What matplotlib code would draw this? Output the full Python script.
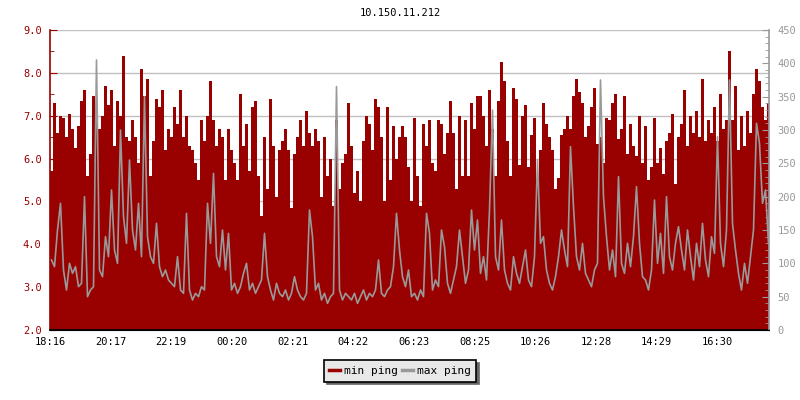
import matplotlib
matplotlib.use("Agg")
import matplotlib.pyplot as plt
import numpy as np
from matplotlib.lines import Line2D
from matplotlib.ticker import MultipleLocator, FormatStrFormatter

title = "10.150.11.212"
step_minutes = 6  # one sample every 6 minutes, 24 h window starting 18:16

# min ping (left axis), one value per sample
min_ping = [
    5.7, 7.3, 6.6, 7.0, 6.95, 6.5, 7.05, 6.7, 6.25, 6.75, 7.35, 7.6, 5.6, 6.1, 7.45, 6.9, 6.7, 7.0, 7.7, 7.25,
    7.6, 6.3, 7.35, 7.0, 8.4, 6.5, 6.4, 6.9, 6.5, 5.9, 8.1, 7.45, 7.85, 5.6, 6.4, 7.4, 7.2, 7.6, 6.2, 6.7,
    6.5, 7.2, 6.8, 7.6, 6.5, 7.0, 6.3, 6.2, 5.9, 5.5, 6.9, 6.4, 7.0, 7.8, 6.9, 6.3, 6.7, 6.5, 5.5, 6.7,
    6.2, 5.9, 5.5, 7.5, 6.3, 6.8, 5.7, 7.2, 7.35, 5.6, 4.65, 6.5, 5.3, 7.4, 6.3, 5.1, 6.2, 6.4, 6.7, 6.2,
    4.85, 6.1, 6.5, 6.9, 6.3, 7.1, 6.6, 6.3, 6.7, 6.4, 5.1, 6.5, 5.6, 6.0, 4.9, 6.9, 5.3, 5.9, 6.1, 7.3,
    6.3, 5.2, 5.7, 5.0, 6.4, 7.0, 6.8, 6.2, 7.4, 7.2, 6.5, 5.0, 7.2, 5.5, 6.75, 6.0, 6.5, 6.75, 6.5, 5.8,
    5.0, 6.95, 5.6, 4.9, 6.8, 6.3, 6.9, 5.9, 5.7, 6.9, 6.8, 6.1, 6.6, 7.35, 6.6, 5.3, 7.0, 5.6, 6.9, 5.6,
    7.3, 6.7, 7.45, 7.45, 7.0, 6.3, 7.6, 6.7, 5.6, 7.35, 8.25, 7.8, 6.4, 5.6, 7.65, 7.4, 5.85, 7.0, 7.25, 5.8,
    6.55, 6.95, 5.35, 6.2, 7.3, 6.8, 6.5, 6.2, 5.3, 5.55, 6.55, 6.7, 7.0, 6.7, 7.45, 7.85, 7.55, 7.3, 6.5, 6.75,
    7.2, 7.65, 6.35, 6.5, 5.9, 6.95, 6.9, 7.3, 7.5, 6.45, 6.7, 7.45, 6.1, 6.8, 6.3, 6.05, 7.0, 5.9, 6.75, 5.5,
    5.8, 6.95, 5.9, 6.25, 5.65, 6.4, 6.6, 7.05, 5.4, 6.5, 6.8, 7.6, 6.3, 7.0, 6.6, 7.1, 6.5, 7.85, 6.4, 6.9,
    6.6, 7.2, 6.4, 7.5, 6.7, 6.9, 8.5, 6.9, 7.7, 6.2, 7.0, 6.3, 7.1, 6.6, 7.5, 8.1, 7.8, 7.2, 6.9, 7.3,
]

# max ping (right axis, ms)
max_ping = [
    105, 95, 150, 190, 90, 60, 100, 85, 95, 65, 70, 200, 50, 60, 65, 405, 90, 80, 140, 110,
    210, 120, 100, 300, 170, 130, 255, 150, 120, 190, 110, 350, 140, 110, 100, 160, 95, 80, 90, 75,
    70, 65, 110, 60, 55, 175, 60, 45, 55, 50, 65, 60, 190, 130, 235, 110, 95, 150, 90, 145,
    60, 70, 55, 65, 85, 100, 60, 70, 55, 65, 75, 145, 80, 60, 45, 70, 55, 50, 60, 45,
    55, 80, 60, 50, 45, 55, 180, 140, 60, 70, 45, 55, 40, 50, 55, 365, 60, 45, 55, 50,
    45, 55, 40, 50, 60, 45, 55, 50, 60, 105, 55, 50, 60, 65, 95, 175, 120, 80, 65, 90,
    50, 55, 45, 60, 50, 175, 145, 60, 75, 65, 150, 125, 70, 55, 75, 95, 150, 110, 70, 90,
    180, 120, 165, 85, 110, 75, 180, 330, 110, 90, 165, 90, 70, 60, 110, 85, 70, 95, 120, 75,
    65, 110, 255, 130, 140, 90, 70, 60, 80, 110, 150, 120, 95, 275, 185, 110, 90, 130, 85, 75,
    65, 90, 100, 375, 200, 140, 90, 120, 80, 230, 100, 85, 130, 95, 140, 215, 130, 80, 75, 60,
    90, 195, 100, 145, 85, 200, 110, 90, 130, 155, 120, 90, 150, 110, 75, 130, 95, 160, 105, 80,
    140, 115, 290, 130, 95, 150, 375, 160, 120, 85, 60, 100, 70, 110, 150, 310, 280, 190, 210, 130,
]

tick_labels = ["18:16", "20:17", "22:19", "00:20", "02:21", "04:22",
               "06:23", "08:25", "10:26", "12:28", "14:29", "16:30"]

RED = "#990000"
GREY = "#999999"
plt.rcParams["font.family"] = ["DejaVu Sans Mono"]
plt.rcParams["font.size"] = 7.5

t = np.arange(len(min_ping)) * step_minutes
t_end = 1438

fig = plt.figure(figsize=(8, 4), dpi=100)
ax = fig.add_axes([50 / 800, 70 / 400, 719 / 800, 300 / 400])
ax2 = ax.twinx()

ax.fill_between(np.append(t, t_end), 2, np.append(min_ping, min_ping[-1]),
                step="post", color=RED, lw=0, label="min ping")
ax2.plot(t + step_minutes / 2, max_ping, color=GREY, lw=1.2, label="max ping")

ax.set_xlim(0, t_end)
ax.set_ylim(2, 9)
ax2.set_ylim(0, 450)

ax.set_axisbelow(True)
ax.yaxis.set_major_locator(MultipleLocator(1))
ax.yaxis.set_minor_locator(MultipleLocator(0.5))
ax.yaxis.set_major_formatter(FormatStrFormatter("%.1f"))
ax.grid(axis="y", color="#c0c0c0", lw=1)

ax.set_xticks(np.arange(len(tick_labels)) * 1456 / 12)
ax.set_xticklabels(tick_labels)

ax.tick_params(axis="x", direction="in", length=5, color="black", pad=5)
ax.tick_params(axis="y", which="major", direction="in", length=5, colors=RED, pad=6)
ax.tick_params(axis="y", which="minor", direction="in", length=3, colors=RED)

ax2.yaxis.set_major_locator(MultipleLocator(50))
ax2.yaxis.set_minor_locator(MultipleLocator(10))
ax2.tick_params(axis="y", which="major", direction="in", length=5, colors=GREY, pad=6)
ax2.tick_params(axis="y", which="minor", direction="in", length=3, colors=GREY)

for a in (ax, ax2):
    a.spines["top"].set_visible(False)
    a.spines["left"].set_visible(False)
    a.spines["right"].set_visible(False)
ax.spines["left"].set_visible(True)
ax.spines["left"].set_color(RED)
ax.spines["left"].set_linewidth(1.2)
ax2.spines["right"].set_visible(True)
ax2.spines["right"].set_color(GREY)
ax2.spines["right"].set_linewidth(1.2)
ax.spines["bottom"].set_linewidth(1.2)

fig.text(0.5, 1 - 13 / 400, title, ha="center", va="center", fontsize=7.5)

labels = ["min ping", "max ping"]
handles = [Line2D([], [], color=RED, lw=2.5), Line2D([], [], color=GREY, lw=2.5)]
leg = fig.legend(handles, labels, loc="center", bbox_to_anchor=(0.5, 1 - 371 / 400),
                 ncol=2, frameon=True, fancybox=False, edgecolor="black",
                 facecolor="#e8e8e8", framealpha=1, handlelength=1.0,
                 handletextpad=0.3, columnspacing=0.4, borderpad=0.5,
                 fontsize=8, shadow={"facecolor": "#666666", "edgecolor": "#666666", "alpha": 1})
leg.get_frame().set_linewidth(1.2)

fig.savefig("out.png", dpi=100)
